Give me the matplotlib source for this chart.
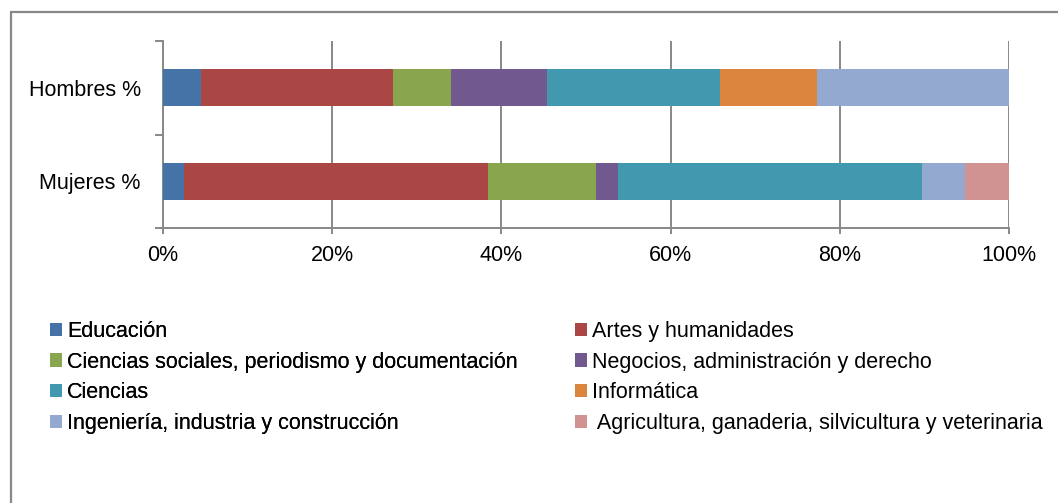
import matplotlib
matplotlib.use('Agg')
from matplotlib import pyplot as plt
from matplotlib.patches import Patch, Rectangle
from matplotlib.ticker import PercentFormatter
import numpy as np

plt.rcParams['font.family'] = ['Liberation Sans', 'DejaVu Sans']

groups = ['Hombres %', 'Mujeres %']
fields = ['Educación', 'Artes y humanidades',
          'Ciencias sociales, periodismo y documentación',
          'Negocios, administración y derecho', 'Ciencias', 'Informática',
          'Ingeniería, industria y construcción',
          ' Agricultura, ganaderia, silvicultura y veterinaria']
colors = ['#4572A7', '#AA4643', '#89A54E', '#71588F',
          '#4198AF', '#DB843D', '#93A9CF', '#D19392']

# share of each field (%)
hombres = [4.5, 22.7, 6.8, 11.4, 20.4, 11.5, 22.7, 0.0]
mujeres = [2.5, 35.9, 12.8, 2.6, 35.9, 0.0, 5.1, 5.2]

GRAY = '#888888'
FS = 15.5

fig = plt.figure(figsize=(10.58, 5.03), dpi=100)
fig.patches.append(Rectangle((11 / 1058, -0.1), 1.2, (1 - 12 / 503) + 0.1,
                             transform=fig.transFigure, fill=False,
                             edgecolor=GRAY, linewidth=1.6))

ax = fig.add_axes([163 / 1058, 1 - 228 / 503, (1009 - 163) / 1058, (228 - 41) / 503])

data = np.array([hombres, mujeres]) / 100.0
ypos = [1, 0]
left = np.zeros(2)
for i, name in enumerate(fields):
    ax.barh(ypos, data[:, i], left=left, height=0.40, color=colors[i],
            label=name, zorder=3)
    left += data[:, i]

ax.set_xlim(0, 1)
ax.set_ylim(-0.5, 1.5)
ax.set_xticks(np.arange(0, 1.01, 0.2))
ax.xaxis.set_major_formatter(PercentFormatter(1.0, decimals=0))
ax.grid(axis='x', color=GRAY, linewidth=1.4, zorder=0)
ax.tick_params(axis='x', length=4, width=1.4, color=GRAY, pad=8, labelsize=FS)

ax.set_yticks([-0.5, 0.5, 1.5])
ax.set_yticklabels([])
ax.set_yticks(ypos, minor=True)
ax.set_yticklabels(groups, minor=True)
ax.tick_params(axis='y', which='major', length=6, width=1.4, color=GRAY)
ax.tick_params(axis='y', which='minor', length=0, pad=16, labelsize=FS)

for s in ['top', 'right']:
    ax.spines[s].set_visible(False)
for s in ['left', 'bottom']:
    ax.spines[s].set_color(GRAY)
    ax.spines[s].set_linewidth(1.4)

handles = [Patch(facecolor=c) for c in colors]
common = dict(frameon=False, fontsize=FS, handlelength=0.58, handleheight=0.58,
              handletextpad=0.2, labelspacing=0.45, borderpad=0, borderaxespad=0,
              loc='upper left')
leg1 = fig.legend(handles[0::2], fields[0::2], bbox_to_anchor=(50 / 1058, 1 - 321 / 503), **common)
fig.add_artist(leg1)
fig.legend(handles[1::2], fields[1::2], bbox_to_anchor=(575 / 1058, 1 - 321 / 503), **common)

fig.savefig('out.png', dpi=100)
